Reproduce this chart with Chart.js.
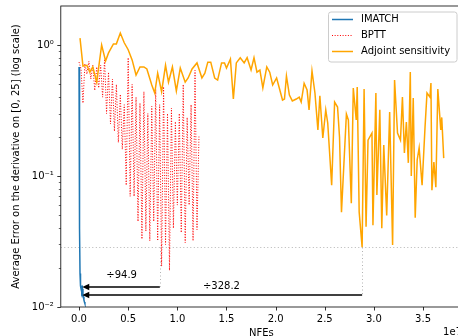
<!DOCTYPE html>
<html>
<head>
<meta charset="utf-8">
<script src="https://cdn.jsdelivr.net/npm/chart.js@4.4.0/dist/chart.umd.min.js"></script>
<style>
  html, body { margin: 0; padding: 0; background: #fff; overflow: hidden; }
  canvas { display: block; }
</style>
</head>
<body>
<canvas id="myChart" width="470" height="345"></canvas>
<script>
// x values are NFEs in units of 1e7
const imatchX = [0.000, 0.002, 0.004, 0.006, 0.008, 0.010, 0.015, 0.020, 0.025, 0.030, 0.035, 0.040, 0.045, 0.050, 0.055, 0.060];
const imatchY = [0.68, 0.50, 0.25, 0.10, 0.04, 0.018, 0.0145, 0.0138, 0.0146, 0.0130, 0.0137, 0.0125, 0.0120, 0.0113, 0.0109, 0.0106];

const bpttX = [0.00, 0.02, 0.04, 0.06, 0.08, 0.10, 0.12, 0.14, 0.16, 0.18,
  0.20, 0.22, 0.24, 0.26, 0.28, 0.30, 0.32, 0.34, 0.36, 0.38,
  0.40, 0.42, 0.44, 0.46, 0.48, 0.50, 0.52, 0.54, 0.56, 0.58,
  0.60, 0.62, 0.64, 0.66, 0.68, 0.70, 0.72, 0.74, 0.76, 0.78,
  0.80, 0.82, 0.84, 0.86, 0.88, 0.90, 0.92, 0.94, 0.96, 0.98,
  1.00, 1.02, 1.04, 1.06, 1.08, 1.10, 1.12, 1.14, 1.16, 1.18,
  1.20, 1.22];
const bpttY = [0.74, 0.66, 0.36, 0.72, 0.60, 0.75, 0.55, 0.70, 0.45, 0.68,
  0.47, 0.70, 0.40, 0.78, 0.30, 0.62, 0.25, 0.55, 0.22, 0.50,
  0.18, 0.42, 0.16, 0.35, 0.085, 0.80, 0.07, 0.50, 0.07, 0.40,
  0.045, 0.36, 0.033, 0.44, 0.038, 0.30, 0.032, 0.34, 0.045, 0.46,
  0.032, 0.35, 0.0205, 0.48, 0.03, 0.30, 0.019, 0.33, 0.04, 0.26,
  0.06, 0.30, 0.037, 0.50, 0.031, 0.28, 0.06, 0.35, 0.032, 0.64,
  0.039, 0.20];

const adjX = [0.01, 0.04, 0.08, 0.11, 0.14, 0.18, 0.23, 0.27, 0.30, 0.35,
  0.38, 0.42, 0.46, 0.50, 0.54, 0.58, 0.62, 0.66, 0.69, 0.74,
  0.77, 0.80, 0.84, 0.88, 0.91, 0.95, 0.99, 1.03, 1.08, 1.11,
  1.15, 1.20, 1.25, 1.28, 1.31, 1.34, 1.38, 1.41, 1.45, 1.48,
  1.50, 1.54, 1.57, 1.60, 1.64, 1.68, 1.71, 1.75, 1.78, 1.81,
  1.84, 1.87, 1.91, 1.94, 1.97, 2.01, 2.07, 2.09, 2.11, 2.14,
  2.17, 2.21, 2.24, 2.26, 2.29, 2.32, 2.34, 2.37, 2.40, 2.43,
  2.45, 2.48, 2.51, 2.53, 2.57, 2.60, 2.63, 2.65, 2.67, 2.72,
  2.74, 2.77, 2.79, 2.82, 2.83, 2.85, 2.88, 2.90, 2.92, 2.94,
  2.98, 2.99, 3.02, 3.03, 3.06, 3.08, 3.10, 3.13, 3.16, 3.19,
  3.21, 3.24, 3.27, 3.29, 3.31, 3.33, 3.35, 3.37, 3.38, 3.40,
  3.42, 3.44, 3.46, 3.49, 3.52, 3.54, 3.57, 3.58, 3.59, 3.61,
  3.63, 3.65, 3.68, 3.69, 3.71];
const adjY = [1.13, 0.69, 0.70, 0.62, 0.68, 0.52, 1.0, 0.755, 0.87, 1.02,
  1.02, 1.235, 1.04, 0.92, 0.77, 0.59, 0.68, 0.68, 0.656, 0.495,
  0.43, 0.61, 0.44, 0.70, 0.52, 0.68, 0.446, 0.667, 0.52, 0.56,
  0.656, 0.73, 0.56, 0.61, 0.74, 0.74, 0.56, 0.54, 0.73, 0.73,
  0.667, 0.78, 0.387, 0.73, 0.80, 0.73, 0.80, 0.644, 0.80, 0.62,
  0.644, 0.47, 0.68, 0.62, 0.495, 0.56, 0.38, 0.387, 0.58, 0.415,
  0.374, 0.387, 0.40, 0.367, 0.51, 0.453, 0.32, 0.633, 0.43, 0.225,
  0.41, 0.195, 0.32, 0.254, 0.085, 0.367, 0.336, 0.1985, 0.053, 0.297,
  0.268, 0.062, 0.47, 0.268, 0.478, 0.053, 0.0286, 0.461, 0.041, 0.188,
  0.213, 0.042, 0.43, 0.0716, 0.32, 0.040, 0.1725, 0.050, 0.308, 0.0297,
  0.54, 0.213, 0.188, 0.40, 0.15, 0.258, 0.126, 0.622, 0.10, 0.394,
  0.048, 0.1325, 0.164, 0.085, 0.237, 0.43, 0.40, 0.513, 0.078, 0.128,
  0.082, 0.461, 0.225, 0.28, 0.137];

// axes
const xMin = -0.1855, xMax = 3.896;
const yMin = 0.01, yMax = 1.985;
const xTicks = [0, 0.5, 1.0, 1.5, 2.0, 2.5, 3.0, 3.5];
const yMajor = [0.01, 0.1, 1];
const yMinor = [0.02, 0.03, 0.04, 0.05, 0.06, 0.07, 0.08, 0.09, 0.2, 0.3, 0.4, 0.5, 0.6, 0.7, 0.8, 0.9];
const yLabels = {0.01: '10\u207B\u00B2', 0.1: '10\u207B\u00B9', 1: '10\u2070'};

// annotations: threshold error, the speed-up arrows and their labels
const thresholdErr = 0.0289;
const arrowFrom = [0.822, 2.88];
const arrowTo = [0.033, 0.033];
const arrowErr = [0.01428, 0.01228];
const ratioLabels = ['\u00F794.9', '\u00F7328.2'];
const labelX = [0.433, 1.449];
const labelY = [0.0173, 0.01428];

const FONT = '"DejaVu Sans", sans-serif';
Chart.defaults.font.family = FONT;
Chart.defaults.font.size = 10;
Chart.defaults.color = '#000';

function seg(ctx, x1, y1, x2, y2) {
  ctx.beginPath();
  ctx.moveTo(x1, y1);
  ctx.lineTo(x2, y2);
  ctx.stroke();
}

const decor = {
  id: 'decor',
  beforeDatasetsDraw(chart) {
    const {ctx, chartArea: a, scales: {x, y}} = chart;
    ctx.save();
    ctx.beginPath();
    ctx.rect(a.left, a.top, a.right - a.left, a.bottom - a.top);
    ctx.clip();
    ctx.strokeStyle = 'rgba(160,160,160,0.8)';
    ctx.lineWidth = 1;
    ctx.setLineDash([1, 2.5]);
    const hy = Math.round(y.getPixelForValue(thresholdErr)) + 0.5;
    seg(ctx, a.left, hy, a.right, hy);
    arrowFrom.forEach((v, i) => {
      const px = Math.round(x.getPixelForValue(v)) + 0.5;
      seg(ctx, px, hy, px, y.getPixelForValue(arrowErr[i]));
    });
    ctx.restore();
  },
  afterDatasetsDraw(chart) {
    const {ctx, chartArea: a, scales: {x, y}} = chart;
    ctx.save();

    // arrows
    ctx.strokeStyle = '#000';
    ctx.fillStyle = '#000';
    ctx.lineWidth = 1.5;
    ctx.setLineDash([]);
    arrowFrom.forEach((v, i) => {
      const yy = Math.round(y.getPixelForValue(arrowErr[i]));
      const xt = x.getPixelForValue(v);
      const xh = x.getPixelForValue(arrowTo[i]);
      seg(ctx, xt, yy, xh + 5, yy);
      ctx.beginPath();
      ctx.moveTo(xh, yy);
      ctx.lineTo(xh + 7, yy - 3.2);
      ctx.lineTo(xh + 7, yy + 3.2);
      ctx.closePath();
      ctx.fill();
    });
    ctx.font = '10px ' + FONT;
    ctx.textAlign = 'center';
    ctx.textBaseline = 'middle';
    ratioLabels.forEach((t, i) => {
      ctx.fillText(t, x.getPixelForValue(labelX[i]), y.getPixelForValue(labelY[i]));
    });

    // spines
    ctx.lineWidth = 0.8;
    ctx.strokeRect(a.left, a.top, a.right - a.left, a.bottom - a.top);

    // tick marks
    xTicks.forEach(v => {
      const px = Math.round(x.getPixelForValue(v)) + 0.5;
      seg(ctx, px, a.bottom, px, a.bottom + 3.5);
    });
    yMajor.forEach(v => {
      const py = Math.round(y.getPixelForValue(v)) + 0.5;
      seg(ctx, a.left - 3.5, py, a.left, py);
    });
    ctx.lineWidth = 0.6;
    yMinor.forEach(v => {
      const py = Math.round(y.getPixelForValue(v)) + 0.5;
      seg(ctx, a.left - 2, py, a.left, py);
    });

    // offset text of the x axis
    ctx.textAlign = 'right';
    ctx.fillText('1e7', a.right, 332);

    // legend
    const bx = a.right - 134, by = a.top + 5.5, bw = 128.5, bh = 50;
    ctx.beginPath();
    ctx.roundRect(bx + 0.5, by + 0.5, bw, bh, 2.5);
    ctx.fillStyle = 'rgba(255,255,255,0.8)';
    ctx.fill();
    ctx.strokeStyle = '#cccccc';
    ctx.lineWidth = 1;
    ctx.stroke();
    ctx.textAlign = 'left';
    ctx.fillStyle = '#000';
    chart.data.datasets.forEach((ds, i) => {
      const ry = by + 8 + i * 16;
      ctx.strokeStyle = ds.borderColor;
      ctx.lineWidth = ds.borderWidth;
      ctx.setLineDash(ds.borderDash || []);
      seg(ctx, bx + 4, ry, bx + 25, ry);
      ctx.setLineDash([]);
      ctx.fillText(ds.label, bx + 33, ry);
    });
    ctx.restore();
  }
};

const ctx = document.getElementById('myChart').getContext('2d');
const myChart = new Chart(ctx, {
  type: 'line',
  data: {
    datasets: [
      {
        label: 'IMATCH',
        data: imatchX.map((v, i) => ({x: v, y: imatchY[i]})),
        borderColor: '#1f77b4',
        borderWidth: 1.5,
        order: 2,
      },
      {
        label: 'BPTT',
        data: bpttX.map((v, i) => ({x: v, y: bpttY[i]})),
        borderColor: 'red',
        borderWidth: 1,
        borderDash: [1, 1.65],
        order: 1,
      },
      {
        label: 'Adjoint sensitivity',
        data: adjX.map((v, i) => ({x: v, y: adjY[i]})),
        borderColor: 'orange',
        borderWidth: 1.5,
        order: 0,
      },
    ],
  },
  options: {
    responsive: false,
    animation: false,
    elements: { point: { radius: 0 }, line: { tension: 0 } },
    layout: { padding: { left: 0, right: 8, top: 6, bottom: 0 } },
    plugins: { legend: { display: false }, tooltip: { enabled: false } },
    scales: {
      x: {
        type: 'linear',
        min: xMin,
        max: xMax,
        grid: { display: false, drawTicks: false },
        border: { display: false },
        ticks: { padding: 6, maxRotation: 0, autoSkip: false, callback: v => v.toFixed(1) },
        afterBuildTicks: s => { s.ticks = xTicks.map(v => ({value: v})); },
        afterFit: s => { s.height = 38; s.paddingLeft = 0; s.paddingRight = 0; },
        title: { display: true, text: 'NFEs', padding: { top: 0, bottom: 6 } },
      },
      y: {
        type: 'logarithmic',
        min: yMin,
        max: yMax,
        grid: { display: false, drawTicks: false },
        border: { display: false },
        ticks: { padding: 7, autoSkip: false, callback: v => yLabels[v] || '' },
        afterBuildTicks: s => { s.ticks = yMajor.map(v => ({value: v})); },
        afterFit: s => { s.width = 60.8; s.paddingTop = 0; s.paddingBottom = 0; },
        title: { display: true, text: 'Average Error on the derivative on [0, 25] (log scale)', padding: { top: 10, bottom: 0 } },
      },
    },
  },
  plugins: [decor],
});
</script>
</body>
</html>
